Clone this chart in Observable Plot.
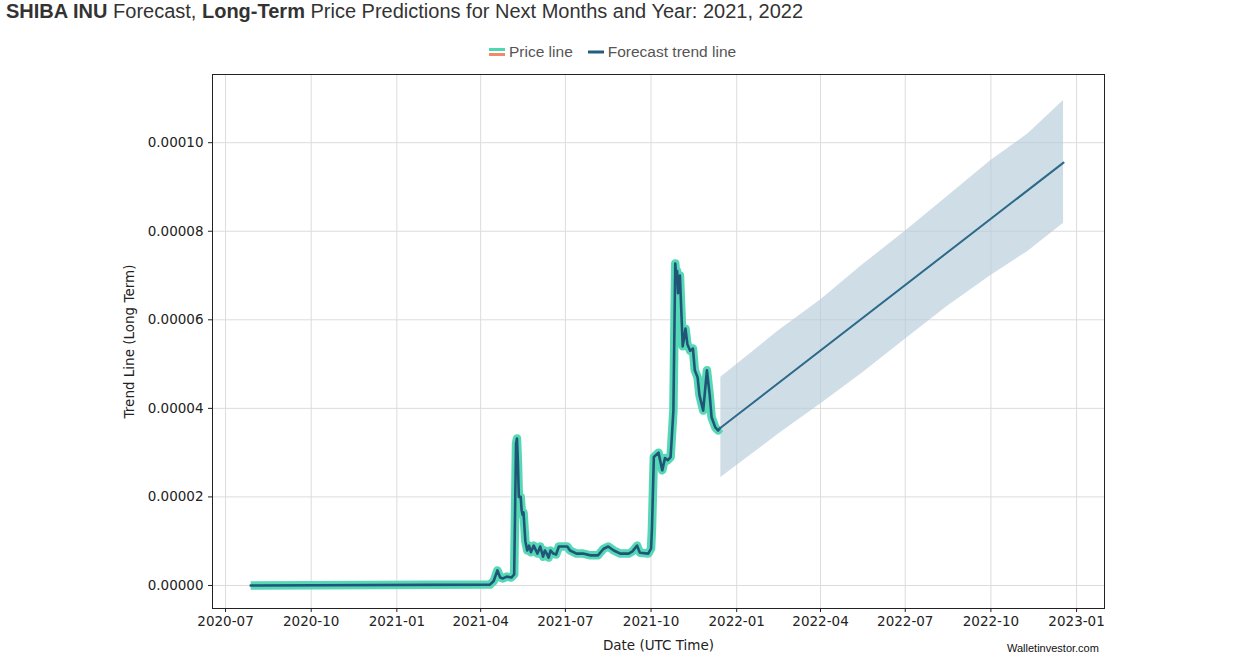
<!DOCTYPE html>
<html>
<head>
<meta charset="utf-8">
<script src="https://cdn.jsdelivr.net/npm/d3@7"></script>
<script src="https://cdn.jsdelivr.net/npm/@observablehq/plot@0.6"></script>
<style>
  html, body { margin: 0; padding: 0; background: #fff; }
  body { width: 1236px; height: 667px; overflow: hidden; position: relative; font-family: "Liberation Sans", Arial, sans-serif; }
  #title { position: absolute; left: 6px; top: 0px; font-size: 20px; color: #333; white-space: nowrap; }
  #title b { color: #333; }
  #legend { position: absolute; left: 489px; top: 43px; font-size: 15.5px; color: #555; display: flex; align-items: center; white-space: nowrap; }
  .sw { display: inline-block; width: 16px; margin-right: 4px; }
  #chart { position: absolute; left: 0; top: 64px; }
  #credit { position: absolute; left: 1007px; top: 642px; font-size: 11px; color: #111; font-family: "Liberation Sans", Arial, sans-serif; }
</style>
</head>
<body>
<div id="title"><b>SHIBA INU</b> Forecast, <b>Long-Term</b> Price Predictions for Next Months and Year: 2021, 2022</div>
<div id="legend">
  <span class="sw"><svg width="16" height="10"><line x1="0" x2="16" y1="2.5" y2="2.5" stroke="#4fd6b2" stroke-width="3"/><line x1="0" x2="16" y1="7.5" y2="7.5" stroke="#f08a6c" stroke-width="3"/></svg></span>
  <span>Price line</span>
  <span class="sw" style="margin-left:15px"><svg width="16" height="10"><line x1="0" x2="16" y1="5" y2="5" stroke="#235e7e" stroke-width="3"/></svg></span>
  <span>Forecast trend line</span>
</div>
<div id="chart"></div>
<div id="credit">Walletinvestor.com</div>
<script>
// ---- data ----
const priceDates = [
  "2020-07-28","2021-04-11","2021-04-15","2021-04-19","2021-04-22","2021-04-25","2021-04-29","2021-05-04","2021-05-07",
  "2021-05-09","2021-05-10","2021-05-11","2021-05-12","2021-05-14","2021-05-15","2021-05-16","2021-05-17","2021-05-19",
  "2021-05-21","2021-05-23","2021-05-25","2021-05-28","2021-06-01","2021-06-04","2021-06-07","2021-06-09","2021-06-11",
  "2021-06-13","2021-06-15","2021-06-18","2021-06-21","2021-06-24","2021-06-29","2021-07-03","2021-07-06","2021-07-13",
  "2021-07-20","2021-07-28","2021-08-05","2021-08-11","2021-08-16","2021-08-22","2021-08-29","2021-09-07","2021-09-11",
  "2021-09-16","2021-09-19","2021-09-28","2021-10-01","2021-10-02","2021-10-04","2021-10-09","2021-10-13","2021-10-16",
  "2021-10-19","2021-10-22","2021-10-25","2021-10-27","2021-10-28","2021-10-29","2021-10-30","2021-11-01","2021-11-03",
  "2021-11-04","2021-11-07","2021-11-09","2021-11-12","2021-11-15","2021-11-17","2021-11-20","2021-11-22","2021-11-26",
  "2021-11-30","2021-12-03","2021-12-05","2021-12-09","2021-12-12","2021-12-14"
];
const priceValues = [
  0, 0.0000002, 0.000001, 0.0000034, 0.0000018, 0.0000016, 0.000002, 0.0000018, 0.0000025,
  0.000032, 0.0000332, 0.000028, 0.00002, 0.00002, 0.000017, 0.000016, 0.0000165, 0.00001,
  0.0000079, 0.000009, 0.0000075, 0.000009, 0.0000072, 0.0000088, 0.0000065, 0.0000079, 0.0000072,
  0.0000063, 0.0000079, 0.0000072, 0.000007, 0.0000088, 0.0000088, 0.0000088, 0.0000079, 0.0000072,
  0.0000072, 0.0000068, 0.0000068, 0.0000083, 0.0000088, 0.0000079, 0.0000072, 0.0000072, 0.0000077,
  0.000009, 0.0000074, 0.0000072, 0.0000083, 0.000013, 0.000029, 0.00003, 0.000026, 0.0000288,
  0.0000283, 0.000029, 0.0000395, 0.0000727, 0.00007, 0.000071, 0.000066, 0.00007, 0.0000594,
  0.000054, 0.000058, 0.0000545, 0.000053, 0.0000535, 0.0000486, 0.000047, 0.000043, 0.0000395,
  0.0000486, 0.000043, 0.000038, 0.0000357, 0.000035, 0.0000355
];
const forecastDates = ["2021-12-14", "2022-12-18"];
const forecastValues = [0.0000355, 0.0000955];
const bandDates = ["2021-12-15", "2022-02-15", "2022-04-01", "2022-05-15", "2022-07-01", "2022-08-15", "2022-10-01", "2022-11-10", "2022-12-18"];
const bandUpper = [0.000047, 0.0000575, 0.0000645, 0.0000722, 0.00008, 0.0000878, 0.000096, 0.000102, 0.0001095];
const bandLower = [0.0000244, 0.0000342, 0.000041, 0.0000478, 0.0000556, 0.000063, 0.00007, 0.0000755, 0.0000818];
const yTicks = [0, 0.00002, 0.00004, 0.00006, 0.00008, 0.0001];
const xTickLabels = ["2020-07","2020-10","2021-01","2021-04","2021-07","2021-10","2022-01","2022-04","2022-07","2022-10","2023-01"];

// ---- build tables ----
const parse = d3.utcParse("%Y-%m-%d");
const price = priceDates.map((d, i) => ({date: parse(d), value: priceValues[i]}));
const forecast = forecastDates.map((d, i) => ({date: parse(d), value: forecastValues[i]}));
const band = bandDates.map((d, i) => ({date: parse(d), lo: bandLower[i], hi: bandUpper[i]}));
const xTicks = xTickLabels.map(s => d3.utcParse("%Y-%m")(s));

const chart = Plot.plot({
  width: 1236,
  height: 603,
  marginLeft: 212,
  marginRight: 132,
  marginTop: 10,
  marginBottom: 59,
  style: {fontFamily: "'DejaVu Sans', sans-serif", fontSize: "13.5px", color: "#222", background: "#fff"},
  x: {type: "utc", domain: [parse("2020-06-17"), parse("2023-01-31")]},
  y: {domain: [-0.0000052, 0.0001154]},
  marks: [
    Plot.gridX(xTicks, {stroke: "#dcdcdc", strokeOpacity: 1, strokeWidth: 1}),
    Plot.gridY(yTicks, {stroke: "#dcdcdc", strokeOpacity: 1, strokeWidth: 1}),
    Plot.areaY(band, {x: "date", y1: "lo", y2: "hi", fill: "#b6cbd9", fillOpacity: 0.65}),
    Plot.line(price, {x: "date", y: "value", stroke: "#56d8b6", strokeWidth: 8.5, strokeLinejoin: "round", strokeLinecap: "butt"}),
    Plot.line(price, {x: "date", y: "value", stroke: "#1f5677", strokeWidth: 2.6, strokeLinejoin: "round"}),
    Plot.line(forecast, {x: "date", y: "value", stroke: "#2c6a8a", strokeWidth: 2}),
    Plot.frame({stroke: "#222", strokeWidth: 1}),
    Plot.axisX({ticks: xTicks, tickFormat: d3.utcFormat("%Y-%m"), tickSize: 4, tickPadding: 4, label: "Date (UTC Time)", labelAnchor: "center", labelArrow: "none", labelOffset: 41, stroke: "#222", fill: "#222", fontSize: 13.5}),
    Plot.axisY({ticks: yTicks, tickFormat: d3.format(".5f"), tickSize: 4, tickPadding: 5, label: "Trend Line (Long Term)", labelAnchor: "center", labelArrow: "none", labelOffset: 88, stroke: "#222", fill: "#222", fontSize: 13.5})
  ]
});
document.getElementById("chart").appendChild(chart);
</script>
</body>
</html>
